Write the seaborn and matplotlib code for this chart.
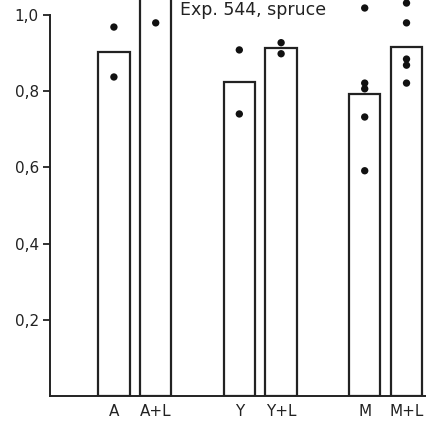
import numpy as np
import matplotlib
matplotlib.use('Agg')
import matplotlib.pyplot as plt
import seaborn as sns
import pandas as pd

# treatments and their position on the x axis (gaps between pairs)
labels = ['A', 'A+L', 'Y', 'Y+L', 'M', 'M+L']
positions = [0, 1, 3, 4, 6, 7]
# bar heights (means); A+L runs off the top of the chart
means = [0.903, 1.08, 0.824, 0.913, 0.793, 0.916]

# single observations
pts_A = [0.968, 0.837]
pts_AL = [0.979]
pts_Y = [0.908, 0.740]
pts_YL = [0.927, 0.898]
pts_M = [1.018, 0.821, 0.806, 0.732, 0.591]
pts_ML = [1.031, 0.979, 0.884, 0.868, 0.821]

yticks = [0.2, 0.4, 0.6, 0.8, 1.0]

if __name__ == '__main__':
    sns.set_style('white')
    plt.rcParams['font.family'] = ['DejaVu Sans']

    bars = pd.DataFrame({'pos': positions, 'mean': means})
    groups = [pts_A, pts_AL, pts_Y, pts_YL, pts_M, pts_ML]
    dots = pd.DataFrame({
        'pos': [p for p, g in zip(positions, groups) for _ in g],
        'value': [v for g in groups for v in g],
    })

    fig = plt.figure(figsize=(4.27, 4.21), dpi=100)
    ax = fig.add_axes([0.117, 0.0594, 0.883, 0.9406])

    sns.barplot(data=bars, x='pos', y='mean', native_scale=True, width=0.75,
                color='white', edgecolor='#222222', linewidth=1.6, ax=ax)
    sns.scatterplot(data=dots, x='pos', y='value', color='#111111', s=28,
                    edgecolor='none', ax=ax, zorder=3)

    ax.set_xlim(-1.53, 7.49)
    ax.set_ylim(0, 1.039)
    ax.set_xticks(positions)
    ax.set_xticklabels(labels, fontsize=11, color='#222222')
    ax.set_yticks(yticks)
    ax.set_yticklabels([f'{t:.1f}'.replace('.', ',') for t in yticks],
                       fontsize=11, color='#222222')
    ax.tick_params(axis='x', length=0, pad=6)
    ax.tick_params(axis='y', length=5, width=1.3, color='#222222', pad=3, left=True)
    ax.set_xlabel('')
    ax.set_ylabel('')

    sns.despine(ax=ax, top=True, right=True)
    ax.spines['left'].set_bounds(0, 1.0)
    for s in ['left', 'bottom']:
        ax.spines[s].set_color('#222222')
        ax.spines[s].set_linewidth(1.4)

    ax.text(1.58, 1.013, 'Exp. 544, spruce', fontsize=12.5, va='center', ha='left',
            color='#222222')

    plt.savefig('out.png', dpi=100)
